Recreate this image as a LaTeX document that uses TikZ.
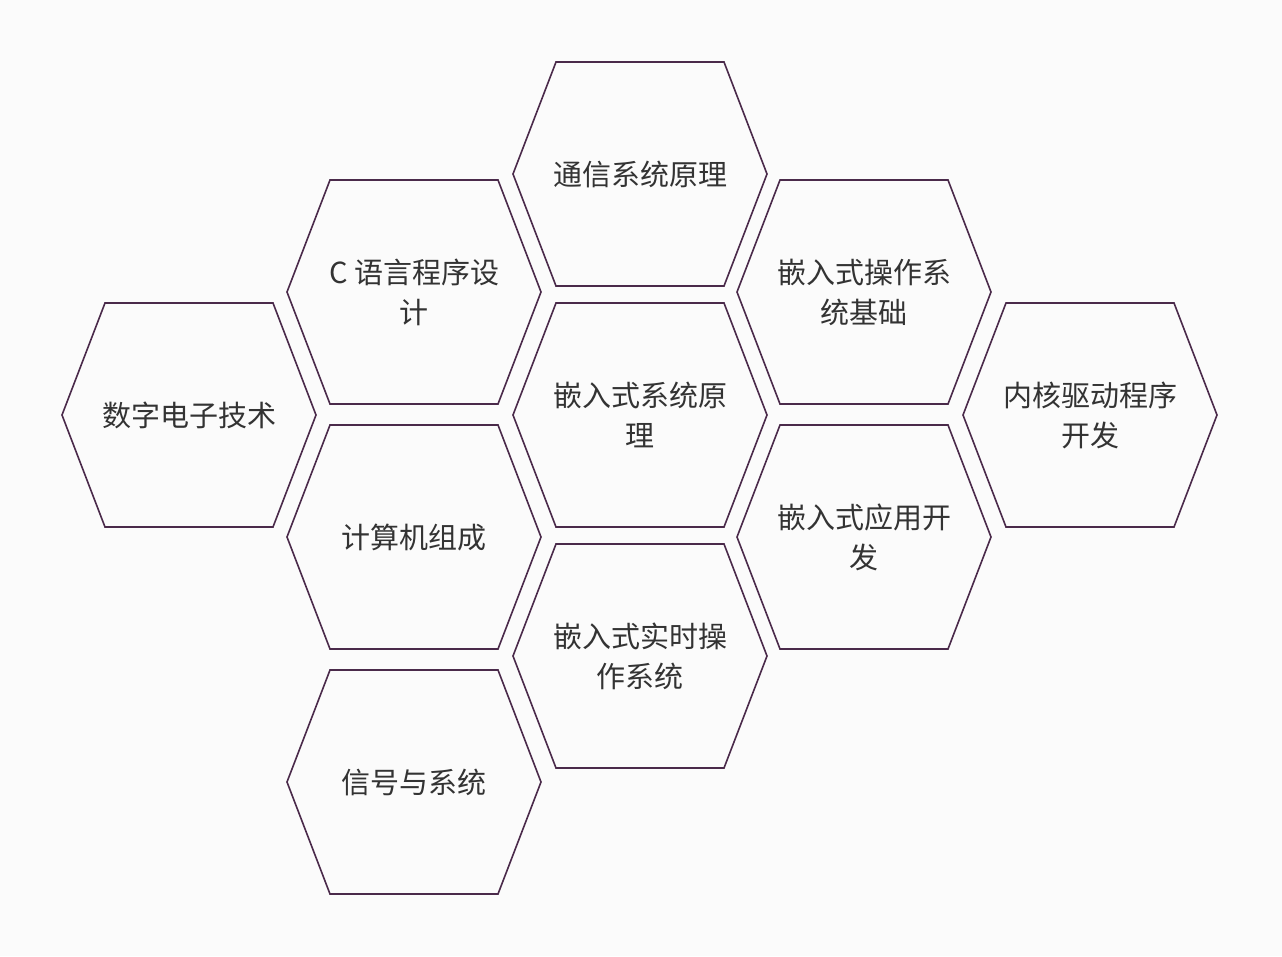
\documentclass[tikz,border=0pt]{standalone}
\usepackage{fontspec}
\setmainfont{Noto Sans CJK SC}
\usetikzlibrary{positioning}
\definecolor{hexline}{HTML}{4A2A4A}
\definecolor{hextext}{HTML}{333333}
\definecolor{bgcol}{HTML}{FBFBFB}
\tikzset{
  hexedge/.style={draw=hexline, line width=1.6pt, line join=miter},
  label/.style={text=hextext, align=center, font=\fontsize{29}{40}\selectfont}
}
\begin{document}
\begin{tikzpicture}[x=1pt, y=-1pt]
    \fill[bgcol] (0,0) rectangle (1282,956);
    \useasboundingbox (0,0) rectangle (1282,956);

    % hexagons: x, y, name, text
    \foreach \cx/\cy/\nm/\txt in {
        189/415/szdz/{数字电子技术},
        414/292/cyy/{C 语言程序设\\计},
        414/537/jsj/{计算机组成},
        414/782/xh/{信号与系统},
        640/174/tx/{通信系统原理},
        640/415/qrs/{嵌入式系统原\\理},
        640/656/ssos/{嵌入式实时操\\作系统},
        864/292/czxt/{嵌入式操作系\\统基础},
        864/537/yy/{嵌入式应用开\\发},
        1090/415/nh/{内核驱动程序\\开发}} {
      \draw[hexedge] (\cx-127,\cy) -- (\cx-84,\cy-112) -- (\cx+84,\cy-112)
          -- (\cx+127,\cy) -- (\cx+84,\cy+112) -- (\cx-84,\cy+112) -- cycle;
      \node[label] (\nm) at (\cx,\cy) {\txt};
    }
\end{tikzpicture}
\end{document}
